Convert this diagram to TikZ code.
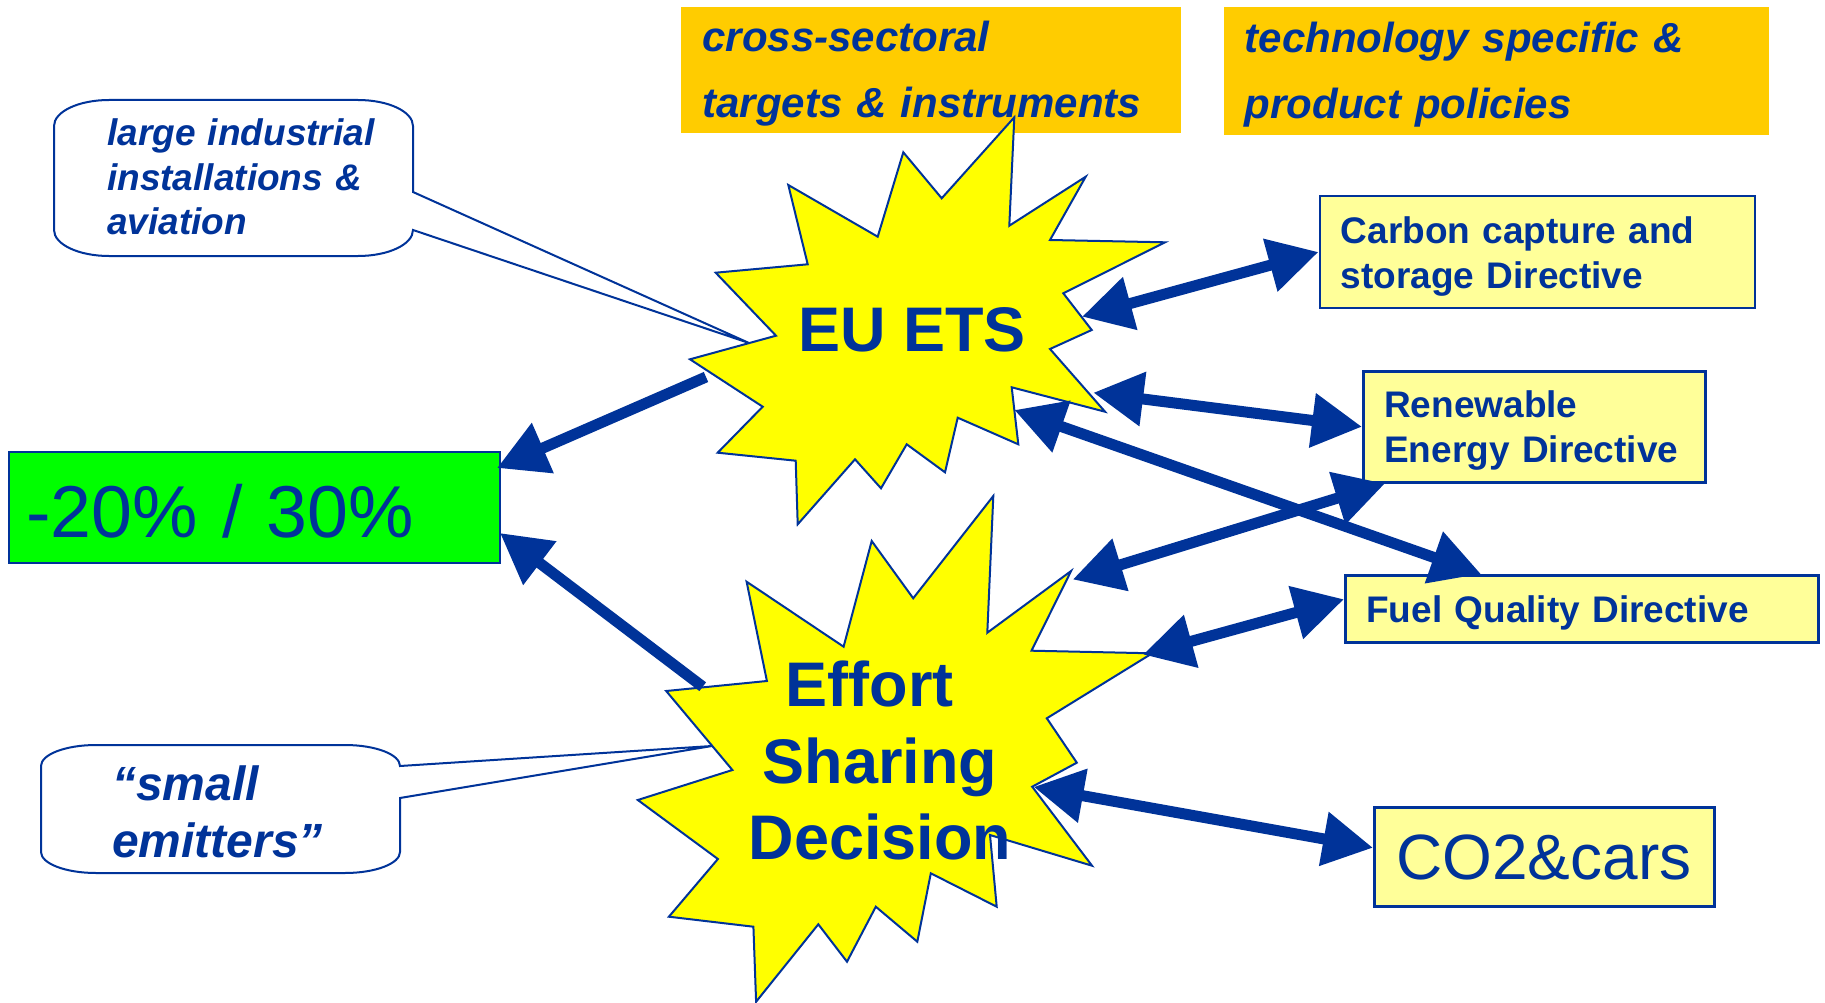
\documentclass[tikz,border=0pt]{standalone}
\usepackage{fontspec}
\setmainfont{Liberation Sans}
\usepackage{color}
\definecolor{myblue}{RGB}{0,51,153}
\definecolor{myyellow}{RGB}{255,255,0}
\definecolor{myorange}{RGB}{255,204,0}
\definecolor{mylightyellow}{RGB}{255,255,153}
\definecolor{mygreen}{RGB}{0,255,0}
\usepackage{tikz}
\usetikzlibrary{calc,arrows.meta,positioning}
\tikzstyle{headerbox}=[fill=myorange,anchor=north west,align=left,inner xsep=21pt,inner ysep=0pt,text height=38pt,text=myblue,font=\fontsize{42}{66}\selectfont\bfseries\itshape]
\tikzstyle{policybox}=[draw=myblue,line width=2.5pt,fill=mylightyellow,anchor=north west,align=left,inner xsep=21pt,inner ysep=0pt,text height=35pt,text=myblue,font=\fontsize{37}{45}\selectfont\bfseries]
\tikzstyle{burst}=[draw=myblue,line width=2pt,fill=myyellow]
\tikzstyle{bubble}=[draw=myblue,line width=2pt,fill=white]
\tikzstyle{bubbletext}=[anchor=base west,align=left,inner sep=0pt,text=myblue]
\tikzstyle{burstlabel}=[anchor=base,align=center,inner sep=0pt,text=myblue]
\tikzstyle{thickarrow}=[draw=myblue,line width=11pt]

\begin{document}
\begin{tikzpicture}[x=1pt,y=-1pt,>={Triangle[length=50pt,width=52pt]}]
\useasboundingbox (0, 0) rectangle (1825, 1003);
\fill[white] (0, 0) rectangle (1825, 1003);
\draw (681, 6.5) node [headerbox, minimum width=499.5, minimum height=126, text width=457pt] (crossbox) {cross-sectoral\\targets \& instruments};
\draw (1223.5, 6.5) node [headerbox, minimum width=545, minimum height=128, text width=503pt] (techbox) {technology specific \&\\product policies};
\draw[bubble] (109, 100) -- (358, 100) .. controls (388.4, 100) and (413, 111.6) .. (413, 126) -- (413, 192) -- (749, 343) -- (413, 230) .. controls (413, 244.4) and (388.4, 256) .. (358, 256) -- (109, 256) .. controls (78.6, 256) and (54, 244.4) .. (54, 230) -- (54, 126) .. controls (54, 111.6) and (78.6, 100) .. (109, 100) -- cycle;
\draw[bubble] (96, 745) -- (345, 745) .. controls (375.4, 745) and (400, 754.4) .. (400, 766) -- (712, 746) -- (400, 798) -- (400, 852) .. controls (400, 863.6) and (375.4, 873) .. (345, 873) -- (96, 873) .. controls (65.6, 873) and (41, 863.6) .. (41, 852) -- (41, 766) .. controls (41, 754.4) and (65.6, 745) .. (96, 745) -- cycle;
\draw (1318.5, 195) node [policybox, minimum width=435, minimum height=111.5, text width=393pt] (ccs) {Carbon capture and\\storage Directive};
\draw (1362, 370) node [policybox, minimum width=342, minimum height=111, text width=300pt] (red) {Renewable\\Energy Directive};
\draw (1344, 574) node [policybox, minimum width=473, minimum height=67, text width=431pt] (fqd) {Fuel Quality Directive};
\draw (1373, 806) node [policybox, minimum width=339.5, minimum height=99, text width=296pt, inner xsep=22pt, text height=47pt, font=\fontsize{64}{76}\selectfont] (cocars) {CO2\&cars};
\draw (8, 451) node [policybox, fill=mygreen, line width=2pt, minimum width=491, minimum height=111, text width=457pt, inner xsep=17pt, text height=60pt, font=\fontsize{73.5}{88}\selectfont] (target) {-20\% / 30\%};
\draw[burst] (1014.3, 117.3) -- (1009.3, 225.7) -- (1085.7, 176.7) -- (1050, 240) -- (1165, 242.3) -- (1063.3, 293.3) -- (1091.7, 330) -- (1050, 349) -- (1105, 411.7) -- (1011.7, 387.3) -- (1018.3, 444.3) -- (957.7, 417.7) -- (945, 472.3) -- (906.7, 444.3) -- (881, 488.3) -- (855, 459.3) -- (797.7, 524.3) -- (795.7, 460.7) -- (717.7, 452.7) -- (762.7, 406.7) -- (690, 359.3) -- (776, 335.7) -- (715.7, 272.7) -- (807.7, 264.3) -- (788.3, 185) -- (877.7, 236.7) -- (903.3, 152.3) -- (941.7, 198.3) -- cycle;
\draw[burst] (993.3, 496) -- (987.3, 632.7) -- (1071.1, 571) -- (1031.5, 650.7) -- (1152.2, 653.3) -- (1046.8, 718.3) -- (1076.8, 762.7) -- (1032.2, 786.7) -- (1092, 865.7) -- (990, 835) -- (996.7, 906.7) -- (930.8, 873.3) -- (917.3, 941.7) -- (875.8, 906.7) -- (847, 961.7) -- (818.3, 924.3) -- (756.1, 1001.7) -- (753.4, 926.7) -- (668.9, 916.7) -- (717.9, 859) -- (637.8, 800) -- (732.4, 770) -- (666.2, 691) -- (766.9, 681) -- (746.6, 581.7) -- (843.6, 646.7) -- (871.7, 541) -- (913.2, 598.3) -- cycle;
\draw (912, 351) node [burstlabel, font=\fontsize{63}{76}\selectfont\bfseries] (ets) {EU ETS};
\draw (880, 706.7) node [burstlabel, text width=320pt, font=\fontsize{63}{76.5}\selectfont\bfseries] (esd) {\hspace*{-21pt}Effort\\Sharing\\Decision};
\draw (107, 146) node [bubbletext, text width=290pt, font=\fontsize{37}{44.5}\selectfont\bfseries\itshape] (largetxt) {large industrial\\installations \&\\aviation};
\draw (112, 800) node [bubbletext, text width=280pt, font=\fontsize{48}{57}\selectfont\bfseries\itshape] (smalltxt) {“small\\emitters”};
\coordinate (etsgreen) at (706, 377);
\coordinate (etsccs) at (1082, 316.7);
\coordinate (etsred) at (1093.3, 392.7);
\coordinate (etsfqd) at (1014.3, 410);
\coordinate (esdgreen) at (702.7, 686.7);
\coordinate (esdred) at (1072.7, 579.5);
\coordinate (esdfqd) at (1143, 654.6);
\coordinate (esdcars) at (1033.6, 786.9);
\draw[thickarrow, ->] (etsgreen) -- ($(target.north east)+(-4, 17)$);
\draw[thickarrow, ->] (esdgreen) -- ($(target.east)+(-1, 25.5)$);
\draw[thickarrow, <->] (etsccs) -- (ccs.west);
\draw[thickarrow, <->] (etsred) -- (red.west);
\draw[thickarrow, <->] (etsfqd) -- ($(fqd.north west)+(137, 0)$);
\draw[thickarrow, <->] (esdred) -- ($(red.south west)+(23, 0)$);
\draw[thickarrow, <->] (esdfqd) -- ($(fqd.west)+(0, -9.5)$);
\draw[thickarrow, <->] (esdcars) -- ($(cocars.west)+(0, -9)$);
\end{tikzpicture}
\end{document}
